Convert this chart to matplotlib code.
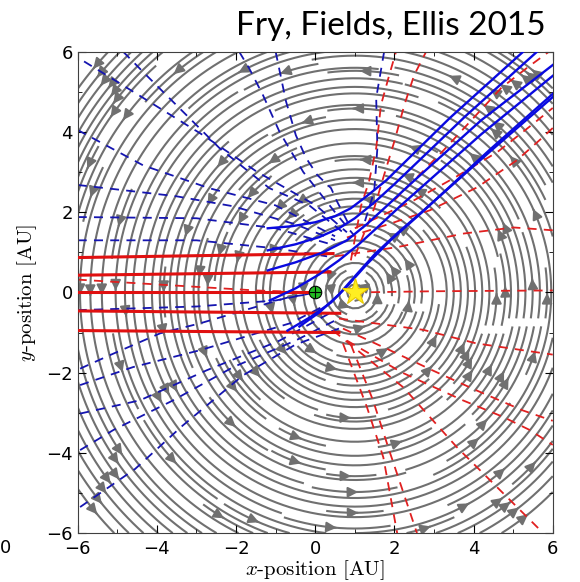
import matplotlib
matplotlib.use('Agg')
import matplotlib.pyplot as plt
from matplotlib.ticker import MultipleLocator
import numpy as np

# positions of the star and the Earth
star = (1.0, 0.0)
earth = (0.0, 0.0)

# incoming solid red tracks: (y at left edge, y at end, x at end)
red_solid_y0 = [0.87, 0.43, 0.01, -0.46, -0.95]
red_solid_y1 = [0.97, 0.51, 0.01, -0.52, -1.0]
red_solid_x1 = [0.45, 0.37, -0.15, 0.62, 0.6]

# solid blue tracks (x list, y list)
blue_solid = [
    ([-1.2, -0.6, 0.0, 0.5, 0.9, 1.3, 1.8, 3.4, 5.25],
     [1.6, 1.65, 1.75, 1.9, 2.1, 2.4, 2.8, 4.35, 6.0]),
    ([-1.2, -0.5, 0.1, 0.6, 1.0, 1.5, 2.0, 3.8, 5.6],
     [1.05, 1.2, 1.38, 1.6, 1.85, 2.25, 2.7, 4.4, 6.0]),
    ([-1.2, -0.5, 0.2, 0.8, 1.3, 1.8, 2.4, 4.2, 6.0],
     [0.55, 0.75, 1.0, 1.3, 1.7, 2.15, 2.7, 4.3, 5.67]),
    ([-1.15, -0.5, 0.1, 0.6, 1.1, 1.6, 2.2, 4.2, 6.0],
     [-0.2, 0.1, 0.45, 0.8, 1.2, 1.65, 2.2, 3.95, 5.4]),
    ([-0.4, 0.1, 0.6, 1.0, 1.5, 2.1, 2.8, 4.4, 6.0],
     [-0.85, -0.5, -0.05, 0.4, 0.95, 1.5, 2.1, 3.5, 4.87]),
    ([-0.7, -0.1, 0.4, 0.8, 1.3, 1.9, 2.7, 4.4, 6.0],
     [-0.95, -0.6, -0.25, 0.15, 0.7, 1.3, 2.0, 3.55, 4.95]),
]

# dashed blue tracks
blue_dashed = [
    ([-5.84, -5.03, -2.83, -1.49, 0.02, 0.8], [5.76, 5.27, 3.92, 3.02, 2.17, 1.5]),
    ([-4.85, -4.27, -3.13, -2.42, -1.16, -0.15, 0.7], [6.0, 5.42, 4.3, 3.6, 2.6, 2.17, 1.5]),
    ([-6.0, -4.35, -2.68, -1.0, 0.5], [4.05, 3.17, 2.6, 2.17, 1.4]),
    ([-6.0, -3.52, -2.08, -0.5, 0.5], [2.68, 2.4, 2.15, 1.7, 1.3]),
    ([-6.0, -3.0, -1.0, 0.4], [1.88, 1.85, 1.6, 1.2]),
    ([-6.0, -3.0, -1.0, 0.3], [1.3, 1.3, 1.1, 0.9]),
    ([-1.92, -1.67, -1.32, -0.9, -0.3, 0.5, 1.0], [6.0, 5.59, 4.92, 4.0, 3.0, 2.0, 1.4]),
    ([-1.0, -0.74, -0.49, -0.23, 0.05, 0.4, 0.55, 0.9], [6.0, 4.77, 3.92, 3.35, 2.93, 2.6, 2.27, 1.6]),
    ([1.74, 1.54, 1.57, 1.49, 1.2], [6.0, 4.85, 3.6, 2.52, 1.6]),
    ([-6.0, -3.0, -1.0, 0.0], [-0.44, -0.35, -0.2, 0.0]),
    ([-5.94, -5.18, -3.92, -2.91, -0.64, 0.2], [-1.9, -1.56, -1.02, -0.77, -0.11, 0.0]),
    ([-5.94, -4.6, -2.91, -0.64, 0.3], [-2.31, -1.86, -1.44, -0.77, -0.3]),
    ([-5.94, -4.43, -2.74, -0.9, 0.4], [-3.02, -2.69, -1.94, -1.2, -0.5]),
    ([-5.94, -5.1, -3.59, -2.07, -0.5, 0.5], [-3.93, -3.43, -2.69, -1.86, -1.2, -0.7]),
    ([-5.94, -4.55, -3.35, -1.83, -0.5, 0.6], [-5.35, -4.4, -3.32, -2.07, -1.3, -0.9]),
]

# dashed red tracks
red_dashed = [
    ([1.0, 3.0, 6.0], [0.0, 0.03, 0.05]),
    ([-6.0, -1.5, 0.0], [0.32, 0.05, 0.0]),
    ([0.9, 1.16, 1.36, 1.54, 1.66, 1.87, 2.04], [0.8, 2.17, 2.77, 3.6, 4.67, 5.42, 6.0]),
    ([1.0, 1.49, 1.74, 2.0, 2.25, 2.5, 2.8], [0.9, 2.1, 2.93, 3.77, 4.67, 5.42, 6.0]),
    ([0.5, 2.07, 3.76, 5.02, 6.0], [0.9, 1.13, 1.47, 1.62, 1.55]),
    ([0.8, 2.0, 2.9, 4.09, 5.1, 5.75, 6.0], [1.37, 1.75, 2.05, 2.62, 3.3, 3.87, 4.1]),
    ([1.0, 2.5, 3.5, 4.6, 5.5, 6.0], [1.6, 2.3, 2.85, 3.5, 4.2, 4.6]),
    ([2.0, 3.2, 4.7, 5.35, 5.9], [2.3, 3.5, 5.1, 5.6, 6.0]),
    ([0.6, 2.72, 4.07, 6.0], [-0.65, -0.93, -1.27, -1.55]),
    ([0.7, 1.8, 2.98, 4.07, 5.24, 6.0], [-0.9, -1.4, -1.95, -2.44, -2.94, -3.2]),
    ([0.8, 2.2, 3.73, 4.74, 5.42, 6.0], [-1.2, -2.0, -2.69, -3.1, -3.43, -3.8]),
    ([0.45, 2.23, 3.58, 5.76], [-0.95, -2.37, -3.86, -6.0]),
    ([0.7, 1.31, 1.72, 2.07], [-1.27, -2.87, -4.11, -6.0]),
    ([0.9, 1.46, 1.89, 2.57], [-1.3, -2.69, -4.0, -6.0]),
]

plt.rcParams['mathtext.fontset'] = 'cm'

fig = plt.figure(figsize=(5.8, 5.82), dpi=100)
ax = fig.add_axes([0.134, 0.084, 0.819, 0.827])

# background flow circling the star
gx = np.linspace(-6, 6, 120)
gy = np.linspace(-6, 6, 120)
X, Y = np.meshgrid(gx, gy)
U = -(Y - star[1])
V = X - star[0]
ax.streamplot(X, Y, U, V, density=2.2, color='0.44', linewidth=1.5,
              arrowsize=1.5, zorder=1)

for xs, ys in blue_dashed:
    ax.plot(xs, ys, color='#1515b0', lw=1.3, ls=(0, (5, 4)), zorder=2)
for xs, ys in red_dashed:
    ax.plot(xs, ys, color='#e02020', lw=1.3, ls=(0, (5, 4)), zorder=2)
for y0, y1, x1 in zip(red_solid_y0, red_solid_y1, red_solid_x1):
    ax.plot([-6, x1], [y0, y1], color='#e01010', lw=2.2, zorder=3)
for xs, ys in blue_solid:
    ax.plot(xs, ys, color='#0a0ae0', lw=1.7, zorder=4)

ax.plot(*earth, 'o', ms=9, mfc='#22bb22', mec='k', mew=0.8, zorder=5)
ax.plot(*earth, '+', ms=8, color='k', mew=0.8, zorder=6)
ax.plot(*star, '*', ms=20, mfc='#ffee22', mec='#e8c800', mew=0.8, zorder=5)

ax.set_xlim(-6, 6)
ax.set_ylim(-6, 6)
ax.xaxis.set_major_locator(MultipleLocator(2))
ax.yaxis.set_major_locator(MultipleLocator(2))
ax.xaxis.set_minor_locator(MultipleLocator(1))
ax.yaxis.set_minor_locator(MultipleLocator(1))
ax.tick_params(which='both', direction='in', top=True, right=True, labelsize=13)
ax.tick_params(which='major', length=6)
ax.tick_params(which='minor', length=3)
ax.tick_params(axis='x', which='major', pad=5)
for s in ax.spines.values():
    s.set_color('0.25')
ax.set_xlabel('$x$-position [AU]', fontsize=15, family='cmr10', labelpad=0)
ax.set_ylabel('$y$-position [AU]', fontsize=15, family='cmr10', labelpad=5)

fig.text(0.94, 0.94, 'Fry, Fields, Ellis 2015', ha='right', va='baseline',
         fontsize=24, family='Lato')
fig.text(0.0, 0.05, '0', fontsize=13, ha='left')

plt.savefig('out.png', dpi=100)
